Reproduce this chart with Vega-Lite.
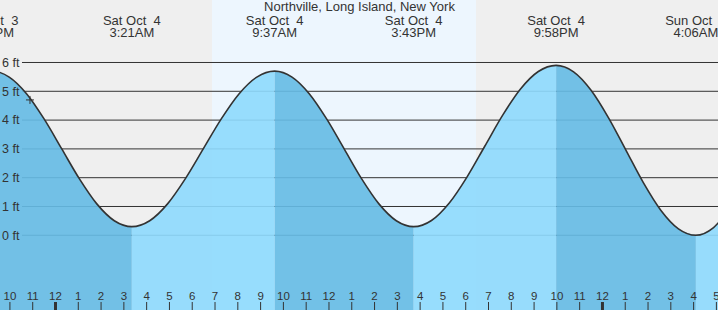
{
  "$schema": "https://vega.github.io/schema/vega-lite/v6.json",
  "width": 718,
  "height": 310,
  "padding": 0,
  "autosize": {"type": "none"},
  "config": {"view": {"stroke": null}, "font": "Liberation Sans"},
  "datasets": {
    "bg": [
      {"start": -2.435, "end": 6.867, "kind": "night"},
      {"start": 6.867, "end": 18.45, "kind": "day"},
      {"start": 18.45, "end": 29.07, "kind": "night"}
    ],
    "grid": [
      {"ft": 6, "label": "6 ft"},
      {"ft": 5, "label": "5 ft"},
      {"ft": 4, "label": "4 ft"},
      {"ft": 3, "label": "3 ft"},
      {"ft": 2, "label": "2 ft"},
      {"ft": 1, "label": "1 ft"},
      {"ft": 0, "label": "0 ft"}
    ],
    "area": [
      {"h": -2.8, "ft": 5.7, "seg": "e1", "phase": "ebb"},
      {"h": -2.031, "ft": 5.494, "seg": "e1", "phase": "ebb"},
      {"h": -1.262, "ft": 4.909, "seg": "e1", "phase": "ebb"},
      {"h": -0.494, "ft": 4.033, "seg": "e1", "phase": "ebb"},
      {"h": 0.275, "ft": 3.0, "seg": "e1", "phase": "ebb"},
      {"h": 1.044, "ft": 1.967, "seg": "e1", "phase": "ebb"},
      {"h": 1.813, "ft": 1.091, "seg": "e1", "phase": "ebb"},
      {"h": 2.581, "ft": 0.506, "seg": "e1", "phase": "ebb"},
      {"h": 3.35, "ft": 0.3, "seg": "e1", "phase": "ebb"},
      {"h": 3.35, "ft": 0.3, "seg": "f1", "phase": "flood"},
      {"h": 4.133, "ft": 0.506, "seg": "f1", "phase": "flood"},
      {"h": 4.917, "ft": 1.091, "seg": "f1", "phase": "flood"},
      {"h": 5.7, "ft": 1.967, "seg": "f1", "phase": "flood"},
      {"h": 6.484, "ft": 3.0, "seg": "f1", "phase": "flood"},
      {"h": 7.267, "ft": 4.033, "seg": "f1", "phase": "flood"},
      {"h": 8.05, "ft": 4.909, "seg": "f1", "phase": "flood"},
      {"h": 8.834, "ft": 5.494, "seg": "f1", "phase": "flood"},
      {"h": 9.617, "ft": 5.7, "seg": "f1", "phase": "flood"},
      {"h": 9.617, "ft": 5.7, "seg": "e2", "phase": "ebb"},
      {"h": 10.379, "ft": 5.494, "seg": "e2", "phase": "ebb"},
      {"h": 11.142, "ft": 4.909, "seg": "e2", "phase": "ebb"},
      {"h": 11.904, "ft": 4.033, "seg": "e2", "phase": "ebb"},
      {"h": 12.667, "ft": 3.0, "seg": "e2", "phase": "ebb"},
      {"h": 13.429, "ft": 1.967, "seg": "e2", "phase": "ebb"},
      {"h": 14.192, "ft": 1.091, "seg": "e2", "phase": "ebb"},
      {"h": 14.954, "ft": 0.506, "seg": "e2", "phase": "ebb"},
      {"h": 15.717, "ft": 0.3, "seg": "e2", "phase": "ebb"},
      {"h": 15.717, "ft": 0.3, "seg": "f2", "phase": "flood"},
      {"h": 16.498, "ft": 0.513, "seg": "f2", "phase": "flood"},
      {"h": 17.279, "ft": 1.12, "seg": "f2", "phase": "flood"},
      {"h": 18.061, "ft": 2.029, "seg": "f2", "phase": "flood"},
      {"h": 18.842, "ft": 3.1, "seg": "f2", "phase": "flood"},
      {"h": 19.623, "ft": 4.171, "seg": "f2", "phase": "flood"},
      {"h": 20.404, "ft": 5.08, "seg": "f2", "phase": "flood"},
      {"h": 21.186, "ft": 5.687, "seg": "f2", "phase": "flood"},
      {"h": 21.967, "ft": 5.9, "seg": "f2", "phase": "flood"},
      {"h": 21.967, "ft": 5.9, "seg": "e3", "phase": "ebb"},
      {"h": 22.734, "ft": 5.675, "seg": "e3", "phase": "ebb"},
      {"h": 23.5, "ft": 5.036, "seg": "e3", "phase": "ebb"},
      {"h": 24.267, "ft": 4.079, "seg": "e3", "phase": "ebb"},
      {"h": 25.034, "ft": 2.95, "seg": "e3", "phase": "ebb"},
      {"h": 25.8, "ft": 1.821, "seg": "e3", "phase": "ebb"},
      {"h": 26.567, "ft": 0.864, "seg": "e3", "phase": "ebb"},
      {"h": 27.334, "ft": 0.225, "seg": "e3", "phase": "ebb"},
      {"h": 28.1, "ft": 0.0, "seg": "e3", "phase": "ebb"},
      {"h": 28.1, "ft": 0.0, "seg": "f3", "phase": "flood"},
      {"h": 28.875, "ft": 0.27, "seg": "f3", "phase": "flood"},
      {"h": 29.65, "ft": 1.0, "seg": "f3", "phase": "flood"}
    ],
    "tide": [
      {"h": -3.569, "ft": 5.494},
      {"h": -2.8, "ft": 5.7},
      {"h": -2.031, "ft": 5.494},
      {"h": -1.262, "ft": 4.909},
      {"h": -0.494, "ft": 4.033},
      {"h": 0.275, "ft": 3.0},
      {"h": 1.044, "ft": 1.967},
      {"h": 1.813, "ft": 1.091},
      {"h": 2.581, "ft": 0.506},
      {"h": 3.35, "ft": 0.3},
      {"h": 4.133, "ft": 0.506},
      {"h": 4.917, "ft": 1.091},
      {"h": 5.7, "ft": 1.967},
      {"h": 6.484, "ft": 3.0},
      {"h": 7.267, "ft": 4.033},
      {"h": 8.05, "ft": 4.909},
      {"h": 8.834, "ft": 5.494},
      {"h": 9.617, "ft": 5.7},
      {"h": 10.379, "ft": 5.494},
      {"h": 11.142, "ft": 4.909},
      {"h": 11.904, "ft": 4.033},
      {"h": 12.667, "ft": 3.0},
      {"h": 13.429, "ft": 1.967},
      {"h": 14.192, "ft": 1.091},
      {"h": 14.954, "ft": 0.506},
      {"h": 15.717, "ft": 0.3},
      {"h": 16.498, "ft": 0.513},
      {"h": 17.279, "ft": 1.12},
      {"h": 18.061, "ft": 2.029},
      {"h": 18.842, "ft": 3.1},
      {"h": 19.623, "ft": 4.171},
      {"h": 20.404, "ft": 5.08},
      {"h": 21.186, "ft": 5.687},
      {"h": 21.967, "ft": 5.9},
      {"h": 22.734, "ft": 5.675},
      {"h": 23.5, "ft": 5.036},
      {"h": 24.267, "ft": 4.079},
      {"h": 25.034, "ft": 2.95},
      {"h": 25.8, "ft": 1.821},
      {"h": 26.567, "ft": 0.864},
      {"h": 27.334, "ft": 0.225},
      {"h": 28.1, "ft": 0.0},
      {"h": 28.875, "ft": 0.27},
      {"h": 29.65, "ft": 1.0}
    ],
    "hours": [
      {"h": -2, "lab": "10"}, {"h": -1, "lab": "11"}, {"h": 0, "lab": "12"},
      {"h": 1, "lab": "1"}, {"h": 2, "lab": "2"}, {"h": 3, "lab": "3"},
      {"h": 4, "lab": "4"}, {"h": 5, "lab": "5"}, {"h": 6, "lab": "6"},
      {"h": 7, "lab": "7"}, {"h": 8, "lab": "8"}, {"h": 9, "lab": "9"},
      {"h": 10, "lab": "10"}, {"h": 11, "lab": "11"}, {"h": 12, "lab": "12"},
      {"h": 13, "lab": "1"}, {"h": 14, "lab": "2"}, {"h": 15, "lab": "3"},
      {"h": 16, "lab": "4"}, {"h": 17, "lab": "5"}, {"h": 18, "lab": "6"},
      {"h": 19, "lab": "7"}, {"h": 20, "lab": "8"}, {"h": 21, "lab": "9"},
      {"h": 22, "lab": "10"}, {"h": 23, "lab": "11"}, {"h": 24, "lab": "12"},
      {"h": 25, "lab": "1"}, {"h": 26, "lab": "2"}, {"h": 27, "lab": "3"},
      {"h": 28, "lab": "4"}, {"h": 29, "lab": "5"}
    ],
    "extremes": [
      {"h": -2.8, "label": "Fri Oct\u00a0 3\n9:12PM"},
      {"h": 3.35, "label": "Sat Oct\u00a0 4\n3:21AM"},
      {"h": 9.617, "label": "Sat Oct\u00a0 4\n9:37AM"},
      {"h": 15.717, "label": "Sat Oct\u00a0 4\n3:43PM"},
      {"h": 21.967, "label": "Sat Oct\u00a0 4\n9:58PM"},
      {"h": 28.1, "label": "Sun Oct\u00a0 5\n4:06AM"}
    ],
    "title": [
      {"h": 13.34, "label": "Northville, Long Island, New York"}
    ],
    "now": [
      {"h": -1.12, "ft": 4.7}
    ]
  },
  "resolve": {"scale": {"color": "independent", "fill": "independent"}},
  "layer": [
    {
      "data": {"name": "bg"},
      "mark": {"type": "rect", "clip": true},
      "encoding": {
        "x": {"field": "start", "type": "quantitative", "scale": {"domain": [-2.435, 29.07], "nice": false, "zero": false}, "axis": null},
        "x2": {"field": "end"},
        "fill": {"field": "kind", "type": "nominal", "scale": {"domain": ["night", "day"], "range": ["#efefef", "#edf6fe"]}, "legend": null}
      }
    },
    {
      "data": {"name": "grid"},
      "mark": {"type": "rule", "color": "#333333", "strokeWidth": 1},
      "encoding": {
        "x": {"datum": -1.47, "type": "quantitative", "scale": {"domain": [-2.435, 29.07], "nice": false, "zero": false}, "axis": null},
        "x2": {"datum": 29.07},
        "y": {"field": "ft", "type": "quantitative", "scale": {"domain": [-2.594, 8.17], "nice": false, "zero": false}, "axis": null}
      }
    },
    {
      "data": {"name": "area"},
      "mark": {"type": "area", "interpolate": "monotone", "fillOpacity": 0.915, "clip": true},
      "encoding": {
        "x": {"field": "h", "type": "quantitative", "scale": {"domain": [-2.435, 29.07], "nice": false, "zero": false}, "axis": null},
        "y": {"field": "ft", "type": "quantitative", "stack": null, "scale": {"domain": [-2.594, 8.17], "nice": false, "zero": false}, "axis": null},
        "y2": {"datum": -2.594},
        "color": {"field": "phase", "type": "nominal", "scale": {"domain": ["ebb", "flood"], "range": ["#66bbe5", "#8edafd"]}, "legend": null},
        "detail": {"field": "seg"}
      }
    },
    {
      "data": {"name": "grid"},
      "mark": {"type": "text", "align": "left", "baseline": "alphabetic", "dy": 4.3, "fontSize": 12.5, "color": "#333333"},
      "encoding": {
        "x": {"datum": -2.347, "type": "quantitative", "scale": {"domain": [-2.435, 29.07], "nice": false, "zero": false}, "axis": null},
        "y": {"field": "ft", "type": "quantitative", "scale": {"domain": [-2.594, 8.17], "nice": false, "zero": false}, "axis": null},
        "text": {"field": "label"}
      }
    },
    {
      "data": {"name": "tide"},
      "mark": {"type": "line", "interpolate": "monotone", "color": "#333333", "strokeWidth": 1.6, "clip": true},
      "encoding": {
        "x": {"field": "h", "type": "quantitative", "scale": {"domain": [-2.435, 29.07], "nice": false, "zero": false}, "axis": null},
        "y": {"field": "ft", "type": "quantitative", "scale": {"domain": [-2.594, 8.17], "nice": false, "zero": false}, "axis": null}
      }
    },
    {
      "data": {"name": "hours"},
      "mark": {"type": "rule", "color": "#333333"},
      "encoding": {
        "x": {"field": "h", "type": "quantitative", "scale": {"domain": [-2.435, 29.07], "nice": false, "zero": false}, "axis": null},
        "y": {"datum": -2.594, "type": "quantitative", "scale": {"domain": [-2.594, 8.17], "nice": false, "zero": false}, "axis": null},
        "y2": {"datum": -2.316},
        "strokeWidth": {"condition": {"test": "datum.h % 24 === 0", "value": 3}, "value": 1}
      }
    },
    {
      "data": {"name": "hours"},
      "mark": {"type": "text", "align": "center", "baseline": "alphabetic", "fontSize": 11.5, "color": "#333333"},
      "encoding": {
        "x": {"field": "h", "type": "quantitative", "scale": {"domain": [-2.435, 29.07], "nice": false, "zero": false}, "axis": null},
        "y": {"datum": -2.247, "type": "quantitative", "scale": {"domain": [-2.594, 8.17], "nice": false, "zero": false}, "axis": null},
        "text": {"field": "lab"}
      }
    },
    {
      "data": {"name": "extremes"},
      "mark": {"type": "text", "align": "center", "baseline": "top", "fontSize": 13, "lineHeight": 12, "lineBreak": "\n", "color": "#333333"},
      "encoding": {
        "x": {"field": "h", "type": "quantitative", "scale": {"domain": [-2.435, 29.07], "nice": false, "zero": false}, "axis": null},
        "y": {"datum": 7.66, "type": "quantitative", "scale": {"domain": [-2.594, 8.17], "nice": false, "zero": false}, "axis": null},
        "text": {"field": "label"}
      }
    },
    {
      "data": {"name": "title"},
      "mark": {"type": "text", "align": "center", "baseline": "alphabetic", "fontSize": 13, "color": "#333333"},
      "encoding": {
        "x": {"field": "h", "type": "quantitative", "scale": {"domain": [-2.435, 29.07], "nice": false, "zero": false}, "axis": null},
        "y": {"datum": 7.771, "type": "quantitative", "scale": {"domain": [-2.594, 8.17], "nice": false, "zero": false}, "axis": null},
        "text": {"field": "label"}
      }
    },
    {
      "data": {"name": "now"},
      "mark": {"type": "point", "shape": "M-1,0H1M0,-1V1", "size": 64, "filled": false, "color": "#333333", "strokeWidth": 1, "opacity": 1},
      "encoding": {
        "x": {"field": "h", "type": "quantitative", "scale": {"domain": [-2.435, 29.07], "nice": false, "zero": false}, "axis": null},
        "y": {"field": "ft", "type": "quantitative", "scale": {"domain": [-2.594, 8.17], "nice": false, "zero": false}, "axis": null}
      }
    }
  ]
}
